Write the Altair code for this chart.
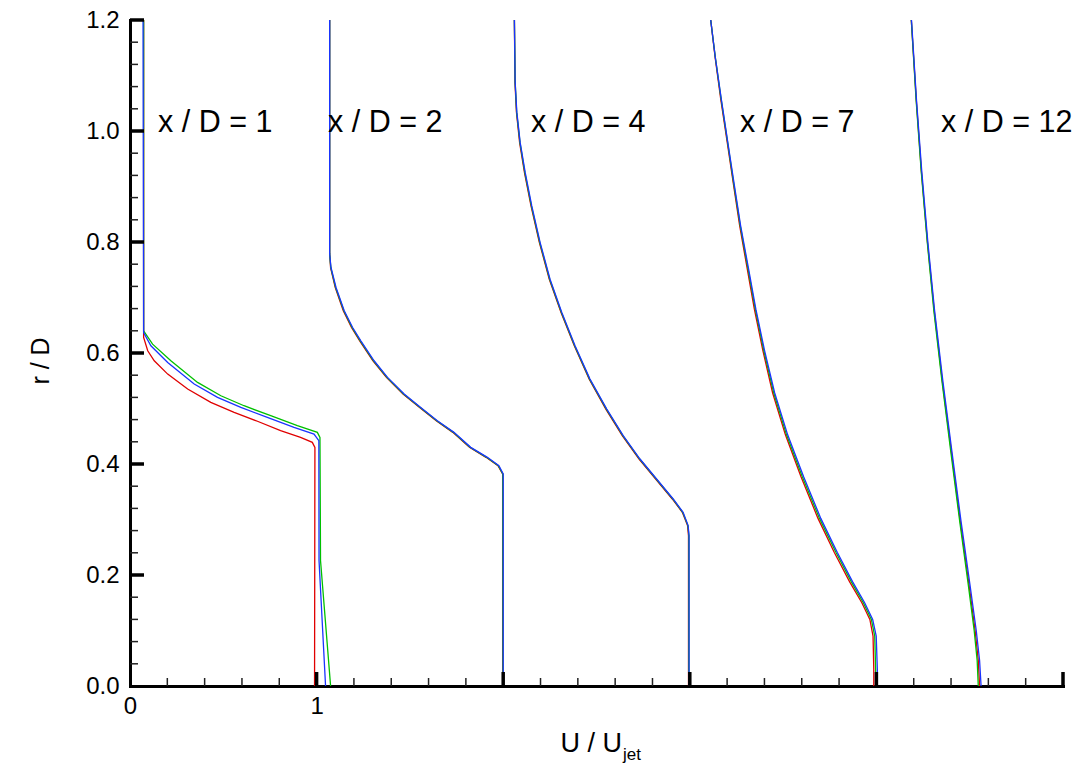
import altair as alt
import pandas as pd

# ---------------- data (U/Ujet vs r/D) ----------------
# x/D = 1  (no shift)
p1_r_red = [1.2, 0.628, 0.604, 0.586, 0.562, 0.535, 0.511, 0.493, 0.477, 0.460, 0.448, 0.439, 0.430, 0.0]
p1_u_red = [0.073, 0.073, 0.095, 0.130, 0.202, 0.309, 0.433, 0.558, 0.683, 0.807, 0.914, 0.977, 0.991, 0.989]
p1_r_green = [1.2, 0.640, 0.616, 0.586, 0.547, 0.523, 0.505, 0.487, 0.469, 0.457, 0.448, 0.226, 0.0]
p1_u_green = [0.073, 0.073, 0.121, 0.219, 0.362, 0.487, 0.611, 0.754, 0.897, 1.004, 1.018, 1.021, 1.075]
p1_r_blue = [1.2, 0.637, 0.613, 0.583, 0.544, 0.520, 0.502, 0.484, 0.466, 0.454, 0.442, 0.226, 0.0]
p1_u_blue = [0.070, 0.073, 0.112, 0.202, 0.344, 0.469, 0.594, 0.736, 0.879, 0.986, 1.012, 1.013, 1.048]

# x/D = 2  (shift 1)
p2_r = [1.2, 0.779, 0.754, 0.718, 0.676, 0.646, 0.622, 0.586, 0.556, 0.526, 0.502, 0.478, 0.457, 0.430, 0.412, 0.397, 0.382, 0.0]
p2_u_red = [0.070, 0.070, 0.075, 0.100, 0.143, 0.187, 0.231, 0.302, 0.374, 0.463, 0.552, 0.641, 0.730, 0.819, 0.908, 0.972, 0.997, 0.997]
p2_u_green = [0.070, 0.070, 0.076, 0.102, 0.146, 0.190, 0.234, 0.305, 0.377, 0.466, 0.555, 0.644, 0.733, 0.822, 0.911, 0.974, 0.998, 0.999]
p2_u_blue = [0.070, 0.070, 0.077, 0.104, 0.148, 0.193, 0.237, 0.308, 0.380, 0.469, 0.558, 0.647, 0.736, 0.826, 0.915, 0.977, 1.000, 1.000]

# x/D = 4  (shift 2)
p3_r = [1.2, 1.088, 1.034, 0.979, 0.925, 0.865, 0.799, 0.733, 0.673, 0.613, 0.553, 0.499, 0.451, 0.409, 0.373, 0.337, 0.313, 0.289, 0.271, 0.0]
p3_u_red = [0.060, 0.063, 0.071, 0.088, 0.114, 0.149, 0.194, 0.247, 0.310, 0.381, 0.461, 0.550, 0.638, 0.728, 0.817, 0.906, 0.960, 0.988, 0.993, 0.993]
p3_u_green = [0.060, 0.064, 0.072, 0.090, 0.116, 0.151, 0.196, 0.249, 0.312, 0.383, 0.463, 0.553, 0.641, 0.731, 0.820, 0.909, 0.962, 0.990, 0.995, 0.995]
p3_u_blue = [0.060, 0.064, 0.073, 0.091, 0.118, 0.153, 0.198, 0.251, 0.314, 0.385, 0.465, 0.555, 0.643, 0.733, 0.822, 0.911, 0.964, 0.991, 0.996, 0.996]

# x/D = 7  (shift 3)
p4_r = [1.2, 1.132, 1.057, 0.981, 0.906, 0.830, 0.755, 0.679, 0.604, 0.528, 0.453, 0.377, 0.302, 0.241, 0.188, 0.150, 0.120, 0.090, 0.030, 0.0]
p4_u_red = [0.112, 0.136, 0.166, 0.200, 0.233, 0.267, 0.306, 0.346, 0.392, 0.444, 0.512, 0.596, 0.687, 0.774, 0.856, 0.922, 0.965, 0.982, 0.986, 0.986]
p4_u_green = [0.112, 0.137, 0.168, 0.202, 0.235, 0.270, 0.310, 0.351, 0.397, 0.450, 0.518, 0.603, 0.695, 0.783, 0.865, 0.930, 0.973, 0.991, 0.996, 0.996]
p4_u_blue = [0.112, 0.137, 0.169, 0.203, 0.237, 0.272, 0.313, 0.354, 0.401, 0.455, 0.524, 0.610, 0.702, 0.790, 0.872, 0.937, 0.980, 0.999, 1.005, 1.005]

# x/D = 12  (shift 4)
p5_r = [1.2, 1.055, 0.928, 0.802, 0.676, 0.550, 0.424, 0.298, 0.181, 0.100, 0.046, 0.0]
p5_u_red = [0.187, 0.214, 0.241, 0.273, 0.310, 0.353, 0.401, 0.449, 0.497, 0.529, 0.546, 0.553]
p5_u_green = [0.187, 0.213, 0.240, 0.272, 0.308, 0.351, 0.398, 0.446, 0.493, 0.524, 0.540, 0.546]
p5_u_blue = [0.188, 0.215, 0.243, 0.275, 0.312, 0.356, 0.404, 0.453, 0.502, 0.535, 0.553, 0.561]

profile_shift = [0, 1, 2, 3, 4]
profile_names = ["x / D = 1", "x / D = 2", "x / D = 4", "x / D = 7", "x / D = 12"]
label_x = [0.15, 1.061, 2.149, 3.269, 4.346]
label_r = [1.014, 1.014, 1.014, 1.014, 1.014]

x_label_values = [0, 1]
y_label_values = [0.0, 0.2, 0.4, 0.6, 0.8, 1.0, 1.2]
x_major_ticks = [1, 2, 3, 4, 5]
x_minor_ticks = [round(i * 0.2, 2) for i in range(1, 25) if i % 5]
y_major_ticks = [0.2, 0.4, 0.6, 0.8, 1.0, 1.2]
y_minor_ticks = [round(i * 0.04, 2) for i in range(1, 30) if i % 5]

# ---------------- build table ----------------
series = [
    (0, "red", p1_r_red, p1_u_red), (0, "green", p1_r_green, p1_u_green), (0, "blue", p1_r_blue, p1_u_blue),
    (1, "red", p2_r, p2_u_red), (1, "green", p2_r, p2_u_green), (1, "blue", p2_r, p2_u_blue),
    (2, "red", p3_r, p3_u_red), (2, "green", p3_r, p3_u_green), (2, "blue", p3_r, p3_u_blue),
    (3, "red", p4_r, p4_u_red), (3, "green", p4_r, p4_u_green), (3, "blue", p4_r, p4_u_blue),
    (4, "red", p5_r, p5_u_red), (4, "green", p5_r, p5_u_green), (4, "blue", p5_r, p5_u_blue),
]
rows = []
for p, c, rr, uu in series:
    for i, (r, u) in enumerate(zip(rr, uu)):
        rows.append({"series": f"{p}-{c}", "color": c, "idx": i, "r": r, "x": u + profile_shift[p]})
df = pd.DataFrame(rows)

lab_df = pd.DataFrame({"text": profile_names, "lx": label_x, "ly": label_r})

W, H = 933, 666
FONT = "Liberation Sans"

xscale = alt.Scale(domain=[0, 5], nice=False, zero=False)
yscale = alt.Scale(domain=[0, 1.2], nice=False, zero=False)

xaxis = alt.Axis(values=x_label_values, format="d", labelFontSize=24, labelFont=FONT,
                 labelColor="black", ticks=False, grid=False, domainWidth=3,
                 domainColor="black", domainCap="square", labelPadding=8,
                 labelFlush=False, title=None)
yaxis = alt.Axis(values=y_label_values, format=".1f", labelFontSize=24, labelFont=FONT,
                 labelColor="black", ticks=False, grid=False, domainWidth=3,
                 domainColor="black", domainCap="square", labelPadding=11,
                 labelFlush=False, title=None)

colors = {"red": "#e00000", "green": "#00c000", "blue": "#1a33ff"}

base = alt.Chart(df)
line_layers = []
for c in ["red", "green", "blue"]:
    line_layers.append(
        base.transform_filter(alt.datum.color == c)
        .mark_line(color=colors[c], strokeWidth=1.3)
        .encode(
            x=alt.X("x:Q", scale=xscale, axis=xaxis),
            y=alt.Y("r:Q", scale=yscale, axis=yaxis),
            detail="series:N",
            order="idx:Q",
        )
    )

xmaj = alt.Chart(pd.DataFrame({"t": x_major_ticks})).mark_rule(color="black", strokeWidth=3.5).encode(
    x=alt.X("t:Q", scale=xscale, axis=xaxis), y=alt.value(H), y2=alt.value(H - 14))
xmin = alt.Chart(pd.DataFrame({"t": x_minor_ticks})).mark_rule(color="#222222", strokeWidth=1.5).encode(
    x=alt.X("t:Q", scale=xscale, axis=xaxis), y=alt.value(H), y2=alt.value(H - 8))
ymaj = alt.Chart(pd.DataFrame({"t": y_major_ticks})).mark_rule(color="black", strokeWidth=3.5).encode(
    y=alt.Y("t:Q", scale=yscale, axis=yaxis), x=alt.value(0), x2=alt.value(14))
ymin = alt.Chart(pd.DataFrame({"t": y_minor_ticks})).mark_rule(color="#222222", strokeWidth=1.5).encode(
    y=alt.Y("t:Q", scale=yscale, axis=yaxis), x=alt.value(0), x2=alt.value(8))

labels = alt.Chart(lab_df).mark_text(align="left", baseline="middle", fontSize=30.5, font=FONT,
                                     color="black").encode(
    x=alt.X("lx:Q", scale=xscale, axis=xaxis), y=alt.Y("ly:Q", scale=yscale, axis=yaxis), text="text:N")

one = pd.DataFrame({"a": [0]})
ytitle = alt.Chart(one).mark_text(text="r / D", angle=270, align="center", baseline="middle",
                                  fontSize=25, font=FONT, color="black").encode(
    x=alt.value(-89), y=alt.value(341))
xtitle_main = alt.Chart(one).mark_text(text="U / U", align="right", baseline="alphabetic",
                                       fontSize=27, font=FONT, color="black").encode(
    x=alt.value(492), y=alt.value(732))
xtitle_sub = alt.Chart(one).mark_text(text="jet", align="left", baseline="alphabetic",
                                      fontSize=17, font=FONT, color="black").encode(
    x=alt.value(493), y=alt.value(740))

chart = alt.layer(
    xmin, ymin, *line_layers, xmaj, ymaj, labels, ytitle, xtitle_main, xtitle_sub
).properties(
    width=W, height=H,
    autosize=alt.AutoSizeParams(type="none"),
    padding={"left": 122, "top": 12, "right": 9, "bottom": 79},
    background="white",
).configure_view(stroke=None)

chart.save("out.html", embed_options={"renderer": "svg", "actions": False})
